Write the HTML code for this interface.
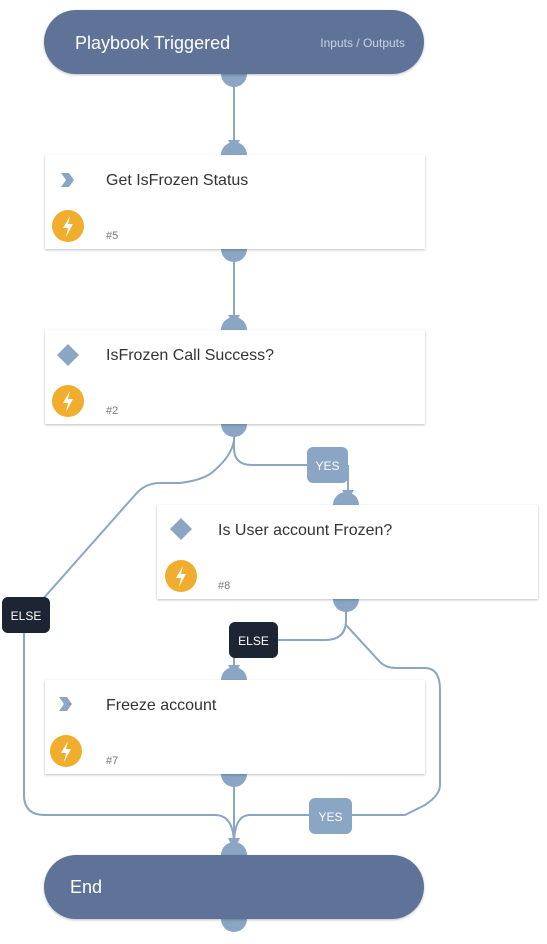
<!DOCTYPE html>
<html><head><style>
html,body{margin:0;padding:0;background:#fff;width:547px;height:944px;overflow:hidden}
svg{display:block;font-family:"Liberation Sans",sans-serif}
</style></head><body>
<svg width="547" height="944" viewBox="0 0 547 944" xmlns="http://www.w3.org/2000/svg">
<defs>
<filter id="sh" x="-5%" y="-10%" width="110%" height="130%"><feDropShadow dx="0" dy="1" stdDeviation="1.2" flood-color="#000" flood-opacity="0.25"/></filter>
</defs>
<g fill="none" stroke="#8aa6c4" stroke-width="2">
<path d="M234 74V148"/>
<path d="M234 249V323"/>
<path d="M234 424V448Q234 465 252 465H307"/>
<path d="M348 465V498"/>
<path d="M234 440Q232 455 215 470Q205 480 180 483H160Q145 483 135 495L42 600"/>
<path d="M24 633V795Q24 815 45 815H215Q234 815 234 845"/>
<path d="M346 599V620Q346 640 325 640H278"/>
<path d="M234 657V673"/>
<path d="M346 625L380 662Q386 668 396 668H425Q440 668 440 690V785Q440 795 425 805L405 815H352"/>
<path d="M309 815H250Q234 815 234 845"/>
<path d="M234 774V848"/>
</g>
<g fill="#8aa6c4">
<path d="M228 140H240L234 150Z"/><path d="M228 315H240L234 325Z"/>
<path d="M342 490H354L348 500Z"/><path d="M228 665H240L234 675Z"/>
<path d="M228 838H240L234 850Z"/>
</g>
<g fill="#8aa6c4">
<circle cx="234" cy="74" r="13"/><circle cx="234" cy="155" r="13"/>
<circle cx="234" cy="249" r="13"/><circle cx="234" cy="330" r="13"/>
<circle cx="234" cy="424" r="13"/><circle cx="346" cy="505" r="13"/>
<circle cx="346" cy="599" r="13"/><circle cx="234" cy="680" r="13"/>
<circle cx="234" cy="774" r="13"/><circle cx="234" cy="855" r="13"/>
<circle cx="234" cy="919" r="13"/>
</g>
<rect x="44" y="10" width="380" height="64" rx="32" fill="#5f7399" filter="url(#sh)"/>
<text x="75" y="49" fill="#fff" font-size="18">Playbook Triggered</text>
<text x="405" y="47" fill="#c9d3e3" font-size="12" text-anchor="end">Inputs / Outputs</text>
<rect x="44" y="855" width="380" height="64" rx="32" fill="#5f7399" filter="url(#sh)"/>
<text x="70" y="893" fill="#fff" font-size="18">End</text>
<g>
<rect x="45" y="155" width="380" height="94" fill="#fff" filter="url(#sh)"/>
<path d="M61 173H69L74 180L69 187H61L66 180Z" fill="#8aa6c4"/>
<text x="106" y="185" fill="#333" font-size="16">Get IsFrozen Status</text>
<circle cx="68" cy="226" r="16" fill="#f0ad2e"/><path d="M70 216L63 228H68L66 237L73 224H68Z" fill="#fff"/>
<text x="106" y="239" fill="#777" font-size="11">#5</text>
</g>
<g>
<rect x="45" y="330" width="380" height="94" fill="#fff" filter="url(#sh)"/>
<path d="M68 344L79 355L68 366L57 355Z" fill="#8aa6c4"/>
<text x="106" y="360" fill="#333" font-size="16">IsFrozen Call Success?</text>
<circle cx="68" cy="401" r="16" fill="#f0ad2e"/><path d="M70 391L63 403H68L66 412L73 399H68Z" fill="#fff"/>
<text x="106" y="414" fill="#777" font-size="11">#2</text>
</g>
<g>
<rect x="157" y="505" width="381" height="94" fill="#fff" filter="url(#sh)"/>
<path d="M181 518L192 529L181 540L170 529Z" fill="#8aa6c4"/>
<text x="218" y="535" fill="#333" font-size="16">Is User account Frozen?</text>
<circle cx="181" cy="576" r="16" fill="#f0ad2e"/><path d="M183 566L176 578H181L179 587L186 574H181Z" fill="#fff"/>
<text x="218" y="589" fill="#777" font-size="11">#8</text>
</g>
<g>
<rect x="45" y="680" width="380" height="94" fill="#fff" filter="url(#sh)"/>
<path d="M59 697H67L72 704L67 711H59L64 704Z" fill="#8aa6c4"/>
<text x="106" y="710" fill="#333" font-size="16">Freeze account</text>
<circle cx="66" cy="751" r="16" fill="#f0ad2e"/><path d="M68 741L61 753H66L64 762L71 749H66Z" fill="#fff"/>
<text x="106" y="764" fill="#777" font-size="11">#7</text>
</g>
<rect x="307" y="447" width="41" height="36" rx="6" fill="#8aa6c4"/>
<text x="327.5" y="470" fill="#fff" font-size="12" text-anchor="middle">YES</text>
<rect x="309" y="798" width="43" height="36" rx="6" fill="#8aa6c4"/>
<text x="330.5" y="821" fill="#fff" font-size="12" text-anchor="middle">YES</text>
<rect x="2" y="597" width="48" height="36" rx="6" fill="#1d2433"/>
<text x="26" y="620" fill="#fff" font-size="12" text-anchor="middle">ELSE</text>
<rect x="229" y="622" width="49" height="36" rx="6" fill="#1d2433"/>
<text x="253.5" y="645" fill="#fff" font-size="12" text-anchor="middle">ELSE</text>
</svg>
</body></html>
